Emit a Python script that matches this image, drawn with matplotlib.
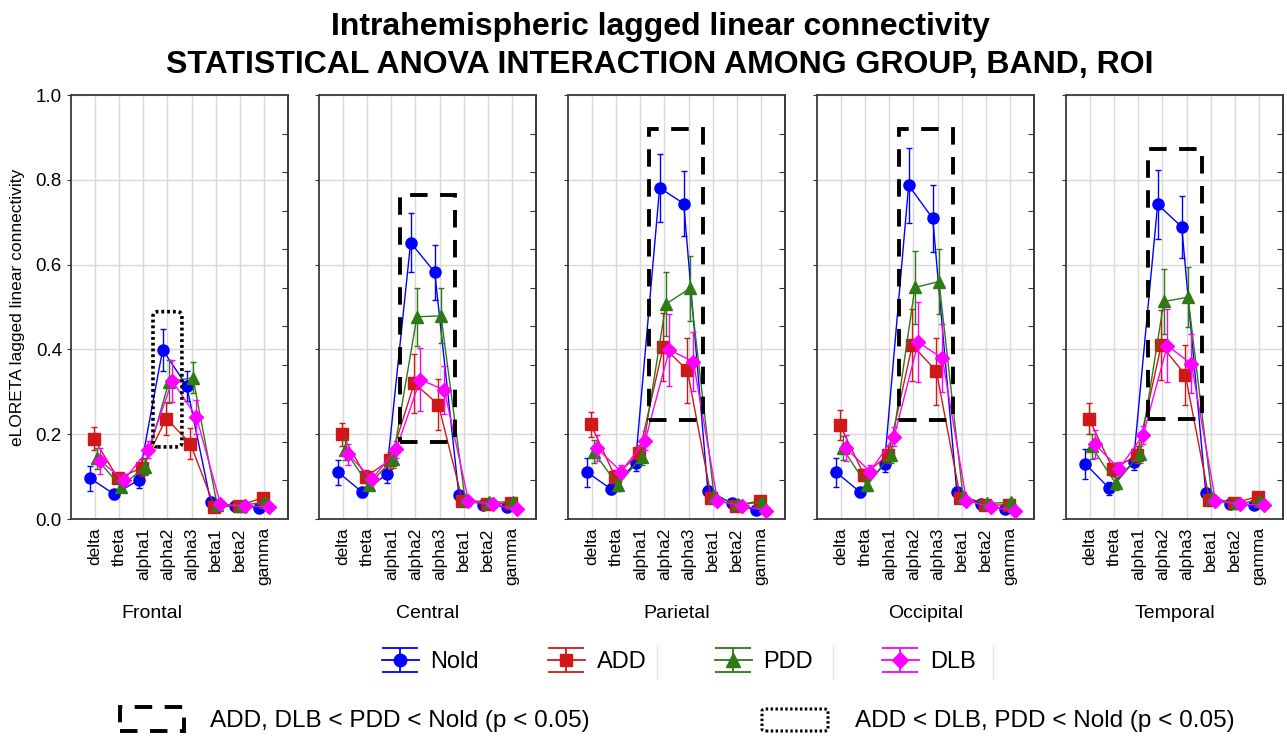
import matplotlib.pyplot as plt
import numpy as np
from matplotlib.patches import Rectangle, FancyBboxPatch
from matplotlib.lines import Line2D
from matplotlib.legend_handler import HandlerErrorbar

plt.rcParams['font.family'] = ['Liberation Sans', 'DejaVu Sans']

bands = ["delta", "theta", "alpha1", "alpha2", "alpha3", "beta1", "beta2", "gamma"]
regions = ["Frontal", "Central", "Parietal", "Occipital", "Temporal"]
groups = ["Nold", "ADD", "PDD", "DLB"]

# mean values, one row per region (Frontal, Central, Parietal, Occipital, Temporal)
nold_mean = [
    [0.096, 0.058, 0.092, 0.399, 0.314, 0.039, 0.031, 0.027],
    [0.110, 0.063, 0.105, 0.652, 0.582, 0.057, 0.033, 0.029],
    [0.110, 0.070, 0.133, 0.781, 0.744, 0.067, 0.037, 0.021],
    [0.110, 0.063, 0.130, 0.787, 0.709, 0.063, 0.035, 0.023],
    [0.130, 0.072, 0.135, 0.742, 0.689, 0.061, 0.035, 0.033],
]
add_mean = [
    [0.189, 0.096, 0.121, 0.237, 0.178, 0.029, 0.031, 0.050],
    [0.200, 0.100, 0.139, 0.320, 0.270, 0.043, 0.035, 0.037],
    [0.223, 0.100, 0.155, 0.406, 0.351, 0.049, 0.031, 0.043],
    [0.222, 0.104, 0.151, 0.410, 0.349, 0.049, 0.033, 0.033],
    [0.237, 0.117, 0.151, 0.410, 0.340, 0.045, 0.037, 0.053],
]
pdd_mean = [
    [0.143, 0.076, 0.123, 0.324, 0.333, 0.033, 0.031, 0.041],
    [0.163, 0.080, 0.141, 0.477, 0.479, 0.045, 0.039, 0.041],
    [0.159, 0.080, 0.147, 0.507, 0.544, 0.053, 0.035, 0.039],
    [0.167, 0.080, 0.151, 0.546, 0.560, 0.051, 0.037, 0.039],
    [0.171, 0.084, 0.153, 0.513, 0.523, 0.049, 0.037, 0.043],
]
dlb_mean = [
    [0.137, 0.092, 0.163, 0.326, 0.241, 0.035, 0.031, 0.029],
    [0.153, 0.094, 0.164, 0.329, 0.304, 0.043, 0.035, 0.023],
    [0.167, 0.112, 0.185, 0.399, 0.371, 0.043, 0.031, 0.020],
    [0.167, 0.112, 0.194, 0.417, 0.379, 0.043, 0.029, 0.020],
    [0.176, 0.119, 0.198, 0.409, 0.366, 0.043, 0.035, 0.033],
]

# error bar half-lengths
nold_err = [
    [0.030, 0.010, 0.020, 0.050, 0.035, 0.010, 0.005, 0.008],
    [0.030, 0.010, 0.020, 0.070, 0.065, 0.010, 0.005, 0.008],
    [0.035, 0.012, 0.020, 0.080, 0.076, 0.012, 0.005, 0.008],
    [0.035, 0.010, 0.020, 0.088, 0.079, 0.012, 0.005, 0.008],
    [0.036, 0.015, 0.020, 0.082, 0.073, 0.012, 0.005, 0.008],
]
add_err = [
    [0.027, 0.012, 0.020, 0.040, 0.037, 0.008, 0.005, 0.010],
    [0.027, 0.015, 0.020, 0.070, 0.060, 0.008, 0.005, 0.008],
    [0.030, 0.015, 0.020, 0.080, 0.077, 0.010, 0.005, 0.008],
    [0.035, 0.015, 0.020, 0.085, 0.079, 0.010, 0.005, 0.008],
    [0.037, 0.015, 0.020, 0.083, 0.071, 0.010, 0.005, 0.010],
]
pdd_err = [
    [0.025, 0.012, 0.020, 0.050, 0.037, 0.008, 0.005, 0.008],
    [0.025, 0.012, 0.020, 0.068, 0.065, 0.008, 0.005, 0.008],
    [0.028, 0.015, 0.020, 0.075, 0.077, 0.010, 0.005, 0.008],
    [0.028, 0.015, 0.020, 0.085, 0.077, 0.010, 0.005, 0.008],
    [0.030, 0.015, 0.020, 0.076, 0.071, 0.010, 0.005, 0.008],
]
dlb_err = [
    [0.030, 0.012, 0.020, 0.050, 0.040, 0.008, 0.005, 0.006],
    [0.025, 0.012, 0.020, 0.075, 0.057, 0.008, 0.005, 0.006],
    [0.030, 0.015, 0.022, 0.085, 0.070, 0.010, 0.005, 0.006],
    [0.030, 0.015, 0.022, 0.095, 0.080, 0.010, 0.005, 0.006],
    [0.033, 0.015, 0.022, 0.086, 0.070, 0.010, 0.005, 0.006],
]

# significance boxes: (x0, y0, x1, y1) in band units, style
sig_boxes = [
    (3.4, 0.170, 4.6, 0.489, "dotted"),
    (3.35, 0.182, 5.65, 0.764, "dashed"),
    (3.36, 0.233, 5.6, 0.919, "dashed"),
    (3.4, 0.233, 5.65, 0.919, "dashed"),
    (3.39, 0.237, 5.66, 0.873, "dashed"),
]

means = [nold_mean, add_mean, pdd_mean, dlb_mean]
errs = [nold_err, add_err, pdd_err, dlb_err]
colors = ["#0000ff", "#d01818", "#2e7a14", "#ff00ff"]
markers = ["o", "s", "^", "D"]
msizes = [8, 8, 9, 7]
offsets = [-0.2, -0.05, 0.06, 0.2]

W, H = 1287, 738
fig = plt.figure(figsize=(W / 100, H / 100), dpi=100)

lefts = [71, 319, 568, 817, 1066]
x = np.arange(1, len(bands) + 1)
for r, region in enumerate(regions):
    ax = fig.add_axes([lefts[r] / W, 1 - 519 / H, 217 / W, 424 / H])
    for g in range(len(groups)):
        ax.errorbar(x + offsets[g], means[g][r], yerr=errs[g][r], color=colors[g],
                    marker=markers[g], markersize=msizes[g], lw=1, elinewidth=1,
                    capsize=2, capthick=1, zorder=3 + g)
    x0, y0, x1, y1, style = sig_boxes[r]
    if style == "dotted":
        box = FancyBboxPatch((x0, y0), x1 - x0, y1 - y0,
                             boxstyle="round,pad=0,rounding_size=0.2",
                             mutation_aspect=0.057, fill=False, ec="black",
                             lw=2.6, ls=(0, (0.8, 0.8)), zorder=10)
    else:
        box = Rectangle((x0, y0), x1 - x0, y1 - y0, fill=False, ec="black",
                        lw=2.8, ls=(0, (4.5, 3.2)), zorder=10)
    ax.add_patch(box)

    ax.set_xlim(0, 9)
    ax.set_ylim(0, 1)
    ax.set_xticks(x)
    ax.set_xticklabels(bands, rotation=90, fontsize=12.5)
    ax.set_yticks(np.arange(0, 1.01, 0.2))
    ax.grid(True, color="#d9d9d9", lw=1, zorder=0)
    ax.set_axisbelow(True)
    ax.tick_params(axis="x", length=0, pad=6)
    ax.tick_params(axis="y", length=3, labelsize=13.5, color="#333333")
    if r > 0:
        ax.set_yticklabels([])
    else:
        ax.set_yticklabels([f"{v:.1f}" for v in np.arange(0, 1.01, 0.2)])
        ax.set_ylabel("eLORETA lagged linear connectivity", fontsize=12.5, labelpad=8)
    sec = ax.secondary_yaxis("right")
    sec.set_yticks(np.arange(1, 11) / 11)
    sec.tick_params(direction="in", length=4, labelright=False, color="#333333")
    for sp in list(ax.spines.values()) + list(sec.spines.values()):
        sp.set_color("#3a3a3a")
        sp.set_linewidth(1.3)
    # first panel label is centred over panel + y-axis area
    lx = 0.373 if r == 0 else 0.5
    ax.text(lx, -0.222, region, transform=ax.transAxes, ha="center", va="center",
            fontsize=14)

# legend proxies with wide caps, drawn on a hidden axes
proxy_ax = fig.add_axes([0, 0, 0.01, 0.01])
proxy_ax.set_visible(False)
handles = []
for g in range(len(groups)):
    handles.append(proxy_ax.errorbar([0], [0], yerr=[1], color=colors[g], marker=markers[g],
                                     markersize=msizes[g] + 1, lw=1.3, elinewidth=1.3,
                                     capsize=13, capthick=1.3))

fig.text(660 / W, 1 - 35 / H, "Intrahemispheric lagged linear connectivity", ha="center",
         va="baseline", fontsize=23, fontweight="bold")
fig.text(660 / W, 1 - 73 / H, "STATISTICAL ANOVA INTERACTION AMONG GROUP, BAND, ROI",
         ha="center", va="baseline", fontsize=23, fontweight="bold")

fig.legend(handles, groups, loc="center", bbox_to_anchor=(679 / W, 1 - 662 / H),
           ncol=4, frameon=False, fontsize=17, handlelength=1.57, handletextpad=0.5,
           columnspacing=2.9,
           handler_map={type(handles[0]): HandlerErrorbar(yerr_size=0.51)})
for sx in [657, 833, 993]:
    fig.add_artist(Line2D([sx / W, sx / W], [1 - 645 / H, 1 - 678 / H],
                          transform=fig.transFigure, color="#e4e4dc", lw=1))

# bottom key for the boxes
fig.add_artist(Rectangle((120 / W, 1 - 731 / H), 64 / W, 24 / H, transform=fig.transFigure,
                         fill=False, ec="black", lw=2.8, ls=(0, (4.5, 3.2))))
fig.text(210 / W, 1 - 721 / H, "ADD, DLB < PDD < Nold (p < 0.05)", ha="left",
         va="center", fontsize=17.5)
fig.add_artist(FancyBboxPatch((762 / W, 1 - 731 / H), 66 / W, 22 / H,
                              boxstyle="round,pad=0,rounding_size=0.003",
                              transform=fig.transFigure, fill=False, ec="black",
                              lw=2.2, ls=(0, (0.8, 0.8))))
fig.text(855 / W, 1 - 721 / H, "ADD < DLB, PDD < Nold (p < 0.05)", ha="left",
         va="center", fontsize=17.5)

fig.savefig("out.png", dpi=100, facecolor="white")
